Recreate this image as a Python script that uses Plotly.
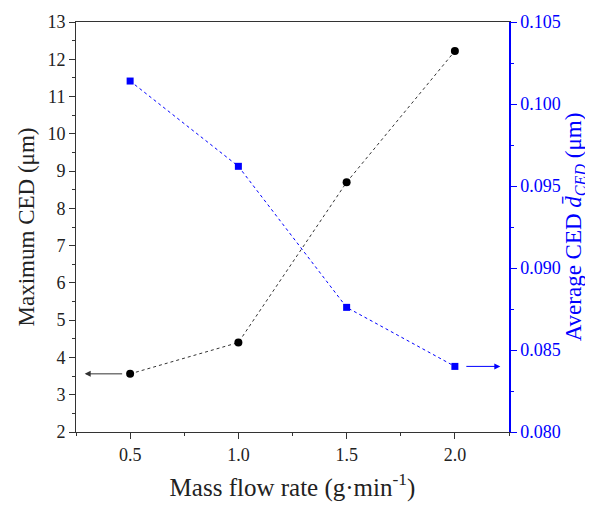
import plotly.graph_objects as go

flow = [0.5, 1.0, 1.5, 2.0]
max_ced = [3.56, 4.40, 8.70, 12.22]
avg_ced = [0.1014, 0.0962, 0.0876, 0.0840]

x_ticks = [0.5, 1.0, 1.5, 2.0]
x_ticktext = ["0.5", "1.0", "1.5", "2.0"]
y_ticks = list(range(2, 14))
y2_ticks = [0.080, 0.085, 0.090, 0.095, 0.100, 0.105]
y2_ticktext = ["0.080", "0.085", "0.090", "0.095", "0.100", "0.105"]

BLUE = "#0000ff"
FONT = "Liberation Serif"

fig = go.Figure()
fig.add_trace(go.Scatter(x=flow, y=max_ced, mode="lines+markers",
                         line=dict(color="#333333", width=1, dash="dot"),
                         marker=dict(symbol="circle", size=8, color="black"),
                         showlegend=False))
fig.add_trace(go.Scatter(x=flow, y=avg_ced, mode="lines+markers", yaxis="y2",
                         line=dict(color=BLUE, width=1, dash="dot"),
                         marker=dict(symbol="square", size=7, color=BLUE),
                         showlegend=False))

# arrows pointing to respective axes
fig.add_annotation(x=0.29, y=max_ced[0], ax=flow[0] - 0.03, ay=max_ced[0],
                   xref="x", yref="y", axref="x", ayref="y", text="",
                   showarrow=True, arrowhead=2, arrowsize=1.2, arrowwidth=1,
                   arrowcolor="#333333")
fig.add_annotation(x=2.21, y=avg_ced[-1], ax=flow[-1] + 0.046, ay=avg_ced[-1],
                   xref="x", yref="y2", axref="x", ayref="y2", text="",
                   showarrow=True, arrowhead=2, arrowsize=1.2, arrowwidth=1,
                   arrowcolor=BLUE)

# page has an 8px body margin, so the figure is shrunk by 8px
fig.update_layout(
    width=585, height=497,
    margin=dict(l=68, r=84, t=14, b=73, autoexpand=False),
    paper_bgcolor="white", plot_bgcolor="white",
    font=dict(family=FONT, size=18, color="#222222"),
    xaxis=dict(range=[0.25, 2.25], tickvals=x_ticks, ticktext=x_ticktext,
               automargin=False,
               ticks="outside", ticklen=6, tickwidth=1, tickcolor="#333333",
               minor=dict(dtick=0.25, ticks="outside", ticklen=3, tickcolor="#333333"),
               showline=True, linecolor="#333333", linewidth=1, mirror=True,
               showgrid=False, zeroline=False,
               title=dict(text="Mass flow rate (g·min<sup>-1</sup>)",
                          font=dict(size=25, family=FONT), standoff=14),
               tickfont=dict(size=18, family=FONT)),
    yaxis=dict(range=[2, 13], tickvals=y_ticks, automargin=False,
               ticks="outside", ticklen=6, tickwidth=1, tickcolor="#333333",
               minor=dict(dtick=0.5, ticks="outside", ticklen=3, tickcolor="#333333"),
               showline=True, linecolor="#333333", linewidth=1,
               showgrid=False, zeroline=False,
               title=dict(text="Maximum CED (μm)", font=dict(size=23, family=FONT), standoff=6),
               tickfont=dict(size=18, family=FONT)),
    yaxis2=dict(range=[0.080, 0.105], tickvals=y2_ticks, ticktext=y2_ticktext,
                overlaying="y", side="right", automargin=False,
                ticks="outside", ticklen=6, tickwidth=1, tickcolor=BLUE,
                minor=dict(dtick=0.0025, ticks="outside", ticklen=3, tickcolor=BLUE),
                showline=True, linecolor=BLUE, linewidth=1.5,
                showgrid=False, zeroline=False,
                title=dict(text="Average CED <i>d\u0304</i><sub><i>CED</i></sub> (μm)",
                           font=dict(size=23, family=FONT, color=BLUE), standoff=0),
                tickfont=dict(size=18, family=FONT, color=BLUE)),
)

fig.write_html("out.html")
